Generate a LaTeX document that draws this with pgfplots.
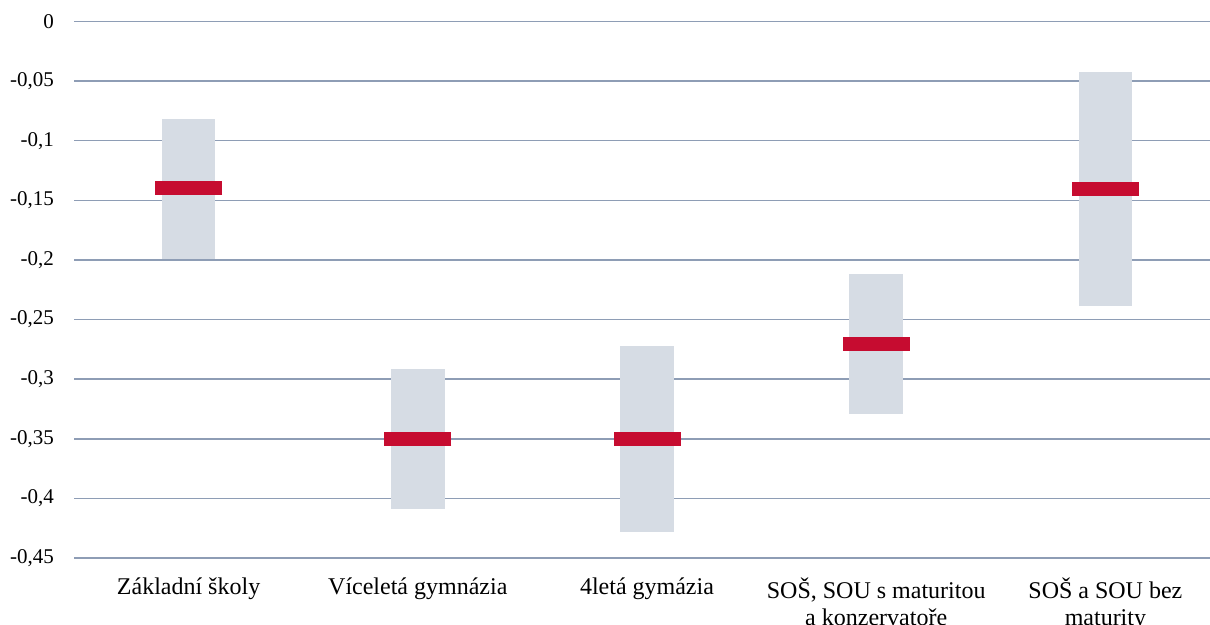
\documentclass[border=0pt]{standalone}
\usepackage{fontspec}
\setmainfont{Liberation Serif}
\usepackage{pgfplots}
\usepackage{pgfplotstable}
\pgfplotsset{compat=1.18}
\definecolor{gridc}{HTML}{8E9DB5}
\definecolor{rangec}{HTML}{D6DCE4}
\definecolor{estc}{HTML}{C60C30}

\pgfplotstableread{
x low high est
0 -0.199 -0.082 -0.140
1 -0.409 -0.2915 -0.350
2 -0.4285 -0.272 -0.350
3 -0.329 -0.212 -0.2705
4 -0.2385 -0.0425 -0.1405
}\datatable

\begin{document}
\begin{tikzpicture}
\begin{axis}[
  at={(0,0)}, anchor=south west, scale only axis,
  width=573pt, height=268.25pt,
  xmin=-0.5, xmax=4.5, ymin=-0.45, ymax=0,
  axis line style={draw=none},
  major tick length=0pt,
  ytick={-0.45,-0.4,-0.35,-0.3,-0.25,-0.2,-0.15,-0.1,-0.05,0},
  ymajorgrids, grid style={gridc, line width=0.75pt},
  xtick={0,1,2,3,4},
  xticklabels={Základní školy, Víceletá gymnázia, 4letá gymázia, {SOŠ, SOU s maturitou\\a konzervatoře}, {SOŠ a SOU bez\\maturity}},
  xticklabel style={font=\fontsize{12}{13.5}\selectfont, align=center, anchor=north, yshift=-6.5pt},
  yticklabel style={font=\fontsize{10.5}{12}\selectfont, anchor=east, xshift=-6.5pt},
  /pgf/number format/fixed, /pgf/number format/precision=2,
  /pgf/number format/use comma, /pgf/number format/assume math mode=true,
  clip=false,
]
\addplot[only marks, mark=none,
  error bars/.cd, y dir=both, y explicit, error mark=none,
  error bar style={line width=26.75pt, color=rangec}]
  table[x=x, y=est, y error plus expr=\thisrow{high}-\thisrow{est}, y error minus expr=\thisrow{est}-\thisrow{low}] {\datatable};
\addplot[only marks, mark=-, mark size=16.75pt, color=estc, mark options={line width=7pt, draw=estc}]
  table[x=x, y=est] {\datatable};
\end{axis}
\pgfresetboundingbox
\useasboundingbox (-37pt,-33.5pt) rectangle (568pt,279pt);
\end{tikzpicture}
\end{document}
